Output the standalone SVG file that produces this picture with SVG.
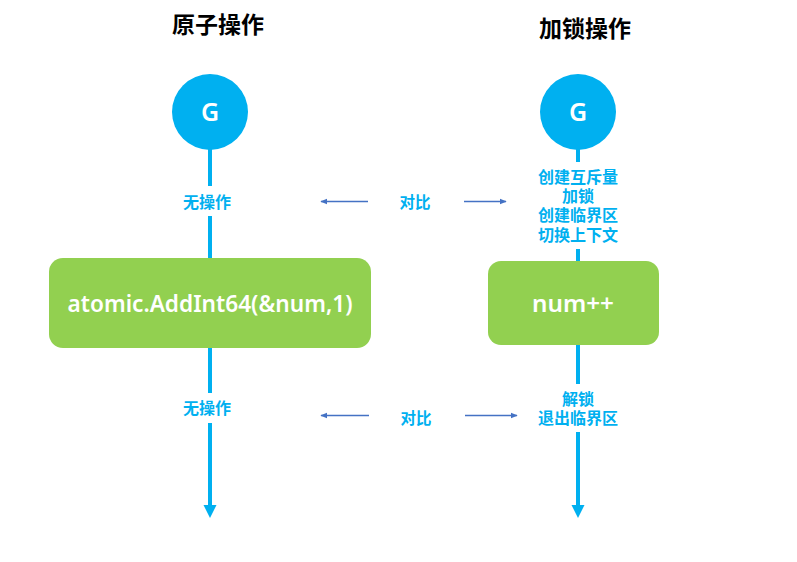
<svg xmlns="http://www.w3.org/2000/svg" width="797" height="562" viewBox="0 0 797 562">
<defs>
<style>
.title{font-family:"Noto Sans CJK SC","Noto Sans",sans-serif;font-size:23px;font-weight:bold;fill:#000;text-anchor:middle}
.lbl{font-family:"Noto Sans CJK SC","Noto Sans",sans-serif;font-size:16px;font-weight:bold;fill:#00B0F0;text-anchor:middle}
.cmp{font-family:"Noto Sans CJK SC","Noto Sans",sans-serif;font-size:15.5px;font-weight:bold;fill:#00B0F0;text-anchor:middle}
.g{font-family:"Noto Sans","Open Sans",sans-serif;font-size:25px;font-weight:600;fill:#fff;text-anchor:middle}
.box{fill:#92D050}
.btxt{font-family:"Noto Sans","Open Sans",sans-serif;font-size:22.5px;font-weight:600;fill:#fff;text-anchor:middle}
.flow{stroke:#00B0F0;stroke-width:4;fill:none}
.cmpl{stroke:#4472C4;stroke-width:1.3;fill:none}
</style>
<marker id="cmpHead" viewBox="0 0 10 10" refX="9" refY="5" markerWidth="7" markerHeight="7" orient="auto-start-reverse" markerUnits="userSpaceOnUse">
<path d="M0,1 L10,5 L0,9 Z" fill="#4472C4"/>
</marker>
</defs>
<rect width="797" height="562" fill="#fff"/>

<text class="title" x="218" y="33">原子操作</text>
<text class="title" x="585" y="37">加锁操作</text>

<g id="connectors">
<line class="flow" x1="210" y1="148" x2="210" y2="186"/>
<line class="flow" x1="210" y1="216" x2="210" y2="260"/>
<line class="flow" x1="210" y1="346" x2="210" y2="393"/>
<line class="flow" x1="210" y1="423" x2="210" y2="506"/>
<path d="M203.5,505 L216.5,505 L210,518 Z" fill="#00B0F0"/>

<line class="flow" x1="578" y1="148" x2="578" y2="162"/>
<line class="flow" x1="578" y1="249" x2="578" y2="263"/>
<line class="flow" x1="578" y1="343" x2="578" y2="384"/>
<line class="flow" x1="578" y1="432" x2="578" y2="506"/>
<path d="M571.5,505 L584.5,505 L578,518 Z" fill="#00B0F0"/>

<line class="cmpl" x1="368" y1="201.5" x2="321" y2="201.5" marker-end="url(#cmpHead)"/>
<line class="cmpl" x1="464" y1="201.5" x2="506" y2="201.5" marker-end="url(#cmpHead)"/>
<line class="cmpl" x1="369" y1="415.5" x2="321" y2="415.5" marker-end="url(#cmpHead)"/>
<line class="cmpl" x1="465" y1="415.5" x2="517" y2="415.5" marker-end="url(#cmpHead)"/>
<text class="cmp" x="415" y="208">对比</text>
<text class="cmp" x="416" y="424">对比</text>
</g>

<g id="g-left">
<circle cx="210" cy="112" r="38" fill="#00B0F0"/>
<text class="g" x="210" y="121">G</text>
</g>
<g id="g-right">
<circle cx="578" cy="112" r="38" fill="#00B0F0"/>
<text class="g" x="578" y="121">G</text>
</g>

<g id="label-left-top"><text class="lbl" x="207" y="208">无操作</text></g>
<g id="label-left-bottom"><text class="lbl" x="207" y="414">无操作</text></g>

<g id="label-right-top">
<text class="lbl" x="578" y="183">创建互斥量</text>
<text class="lbl" x="578" y="202">加锁</text>
<text class="lbl" x="578" y="221">创建临界区</text>
<text class="lbl" x="578" y="241">切换上下文</text>
</g>
<g id="label-right-bottom">
<text class="lbl" x="578" y="405">解锁</text>
<text class="lbl" x="578" y="424">退出临界区</text>
</g>

<g id="box-atomic">
<rect class="box" x="49" y="258" width="322" height="90" rx="14"/>
<text class="btxt" x="210" y="312" textLength="285" lengthAdjust="spacingAndGlyphs">atomic.AddInt64(&amp;num,1)</text>
</g>
<g id="box-num">
<rect class="box" x="488" y="261" width="171" height="84" rx="13"/>
<text class="btxt" x="573" y="312" textLength="82" lengthAdjust="spacingAndGlyphs">num++</text>
</g>
</svg>
